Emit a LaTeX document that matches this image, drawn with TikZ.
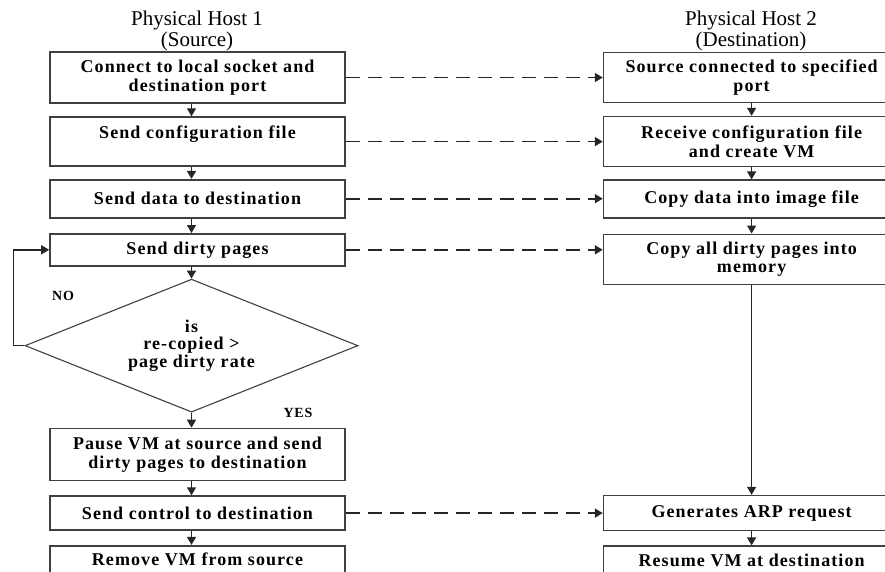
\documentclass[tikz,border=0pt]{standalone}
\usepackage{fontspec}
\setmainfont{Liberation Serif}
\newfontfamily\boxfont[LetterSpace=6]{Liberation Serif}
\usetikzlibrary{positioning, arrows.meta, shapes.geometric, calc}

\begin{document}
\begin{tikzpicture}[x=1pt, y=-1pt,
    box/.style={draw=black!75, line width=1.6pt, rectangle, minimum width=295pt, align=center, fill=white, inner sep=2pt, font=\boxfont\bfseries\fontsize{18}{18.5}\selectfont},
    decision/.style={draw=black!75, line width=1.1pt, diamond, aspect=2.5, minimum width=333pt, minimum height=133pt, align=center, inner sep=0pt, font=\boxfont\bfseries\fontsize{18}{17.5}\selectfont},
    hosttitle/.style={align=center, font=\fontsize{21}{20.5}\selectfont},
    answer/.style={font=\boxfont\bfseries\fontsize{14}{16}\selectfont},
    arrow/.style={-{Triangle[length=8pt, width=9pt]}, line width=1.4pt, draw=black!85},
    dasharrow/.style={arrow, line width=1.8pt, dash pattern=on 14pt off 8pt}
]

\path[use as bounding box] (0,0) rectangle (885,572);
\fill[white] (0,0) rectangle (885,572);
\clip (0,0) rectangle (885,572);

% Titles
\node[hosttitle] (host1) at (197,31) {Physical Host 1\\(Source)};
\node[hosttitle] (host2) at (751,31) {Physical Host 2\\(Destination)};

% Source side
\node[box, minimum height=51pt] (connect) at (197.5,77.5) {Connect to local socket and\\destination port};
\node[box, minimum height=49pt, below=12.5pt of connect] (sendconf) {Send configuration file\\~};
\node[box, minimum height=38pt, below=12pt of sendconf] (senddata) {Send data to destination};
\node[box, minimum height=32pt, below=14.5pt of senddata] (senddirty) {Send dirty pages};
\node[decision, below=12pt of senddirty, xshift=-6pt] (check) {is\\re-copied >\\page dirty rate};
\node[box, minimum height=52pt, below=15pt of check, xshift=6pt] (pause) {Pause VM at source and send\\dirty pages to destination};
\node[box, minimum height=34pt, below=14pt of pause] (control) {Send control to destination};
\node[box, minimum height=28pt, below=14pt of control] (remove) {Remove VM from source};

% Destination side
\node[box, minimum width=296pt, minimum height=50pt, right=257pt of connect] (connected) {Source connected to specified\\port};
\node[box, minimum width=296pt, minimum height=50pt, below=12.5pt of connected] (receive) {Receive configuration file\\and create VM};
\node[box, minimum width=296pt, minimum height=38pt, below=12pt of receive] (copydata) {Copy data into image file};
\node[box, minimum width=296pt, minimum height=50pt, below=14.5pt of copydata] (copydirty) {Copy all dirty pages into\\memory};
\node[box, minimum width=296pt, minimum height=35pt] (arp) at (control -| copydirty) {Generates ARP request};
\node[box, minimum width=296pt, minimum height=28pt, below=14pt of arp] (resume) {Resume VM at destination};

% Answers
\node[answer] (no) at (63,296) {NO};
\node[answer] (yes) at (298,413) {YES};

% Edges
\foreach \a/\b in {connect/sendconf, sendconf/senddata, senddata/senddirty, pause/control, control/remove}
    \draw[arrow] (\a.south -| check.north) -- (\b.north -| check.north);
\draw[arrow] (senddirty.south -| check.north) -- (check.north);
\draw[arrow] (check.south) -- (check.south |- pause.north);
\draw[arrow] (check.west) -- ++(-11,0) |- (senddirty.west);

\foreach \a/\b in {connected/receive, receive/copydata, copydata/copydirty, copydirty/arp, arp/resume}
    \draw[arrow] (\a) -- (\b);

\foreach \a/\b in {connect/connected, sendconf/receive, senddata/copydata, senddirty/copydirty, control/arp}
    \draw[dasharrow] (\a.east) -- (\a.east -| \b.west);

\end{tikzpicture}
\end{document}
